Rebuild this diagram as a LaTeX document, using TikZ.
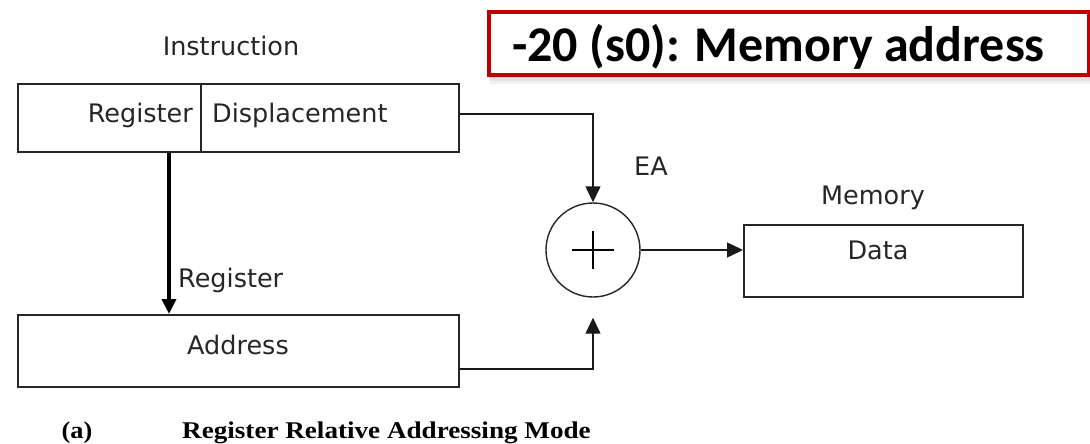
\documentclass[tikz,border=0pt]{standalone}
\usepackage{fontspec}
\setmainfont{DejaVu Sans}
\newfontfamily\calib{Carlito}
\newfontfamily\capfont{Liberation Serif}
\usetikzlibrary{arrows.meta}
\definecolor{boxred}{HTML}{C00000}
\begin{document}
\begin{tikzpicture}[x=1pt,y=-1pt,
  box/.style={draw=black!85, line width=1.8pt, inner sep=0pt, anchor=north west},
  txt/.style={inner sep=0pt, font=\fontsize{25.5}{30}\selectfont, text height=18.6pt, text depth=0pt, text=black!85},
  conn/.style={line width=1.4pt, draw=black!90},
  tip/.style={-{Triangle[length=16pt,width=15pt]}},
  capt/.style={inner sep=0pt, font=\capfont\bfseries\fontsize{24}{29}\selectfont, text height=15.9pt, text depth=0pt},
  callfont/.style={inner sep=0pt, anchor=west, font=\calib\bfseries\fontsize{50}{60}\selectfont, text height=32pt, text depth=0pt}
]
\useasboundingbox (0,0) rectangle (1090,444);

% instruction boxes
\node[box, minimum width=183pt, minimum height=68pt] (regf) at (17,83) {};
\node[box, minimum width=258pt, minimum height=68pt] (dispf) at (200,83) {};
\node[txt, anchor=east] (regt) at (193,113) {Register};
\node[txt, anchor=west] (dispt) at (212,113) {Displacement};
\node[txt] (instr) at (231,46) {Instruction};

% address box
\node[box, minimum width=441pt, minimum height=72pt] (addr) at (17,314) {};
\node[txt] (addrt) at (238,345) {Address};
\node[txt, anchor=west] (regl) at (178,278) {Register};

% adder
\node[circle, draw=black!85, line width=1.4pt, minimum size=94pt, inner sep=0pt] (add) at (593,250) {};
\draw[line width=1.4pt] ([xshift=-21pt]add.center) -- ([xshift=21pt]add.center);
\draw[line width=1.4pt] ([yshift=19pt]add.center) -- ([yshift=-19pt]add.center);
\node[txt] (ea) at (651,166) {EA};

% memory
\node[box, minimum width=279pt, minimum height=72pt] (data) at (743,224) {};
\node[txt] (datat) at (878,250.5) {Data};
\node[txt] (mem) at (873,195.5) {Memory};

% connectors
\coordinate (ta) at (169,0);
\draw[line width=4pt, -{Triangle[length=15pt,width=14pt]}] (regf.south -| ta) -- (addr.north -| ta);
\draw[conn, tip] ([yshift=4pt]dispf.east) -| (add.north);
\draw[conn, tip] ([yshift=-18pt]addr.east) -| ([yshift=-20pt]add.south);
\draw[conn, tip] (add.east) -- (add.east -| data.west);

% red callout
\fill[black, opacity=0.05] (490,15) rectangle (1093,84);
\fill[black, opacity=0.06] (489,14) rectangle (1091,81);
\fill[black, opacity=0.08] (488,12) rectangle (1090,78);
\node[box, draw=boxred, fill=white, line width=4pt, minimum width=600pt, minimum height=63pt] (callout) at (487,10) {};
\node[callfont] (callt) at (512,46) {-20 (s0): Memory address};

% caption
\node[capt] (capa) at (77,431) {\scalebox{1.1}[1]{(a)}};
\node[capt, anchor=west] (capm) at (182,431) {\scalebox{1.13}[1]{Register Relative Addressing Mode}};
\end{tikzpicture}
\end{document}
